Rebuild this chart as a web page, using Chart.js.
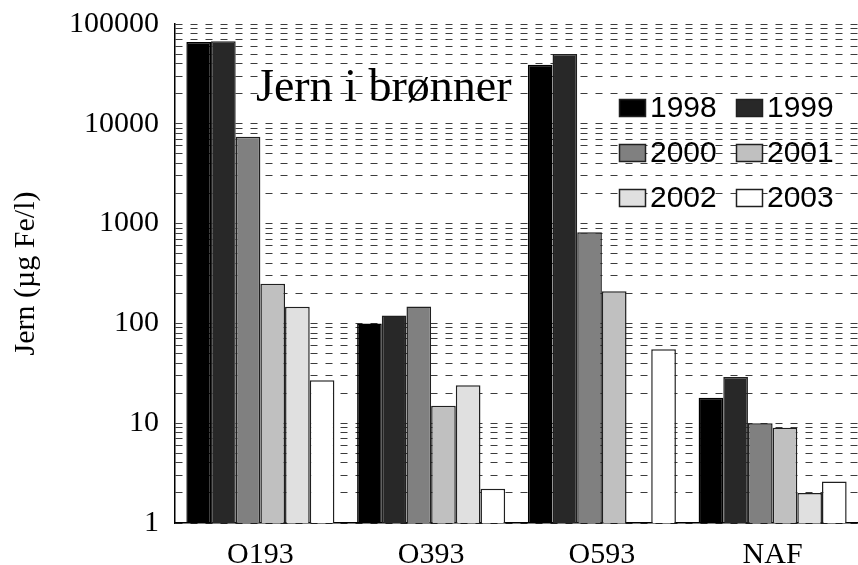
<!DOCTYPE html>
<html>
<head>
<meta charset="utf-8">
<script src="https://cdn.jsdelivr.net/npm/chart.js@4/dist/chart.umd.min.js"></script>
<style>
  body { margin: 0; background: #fff; }
  #wrap { width: 858px; height: 565px; }
</style>
</head>
<body>
<div id="wrap"><canvas id="jern-chart" width="858" height="565"></canvas></div>
<script>
// Iron in wells, per year (µg Fe/l)
const categories = ['O193', 'O393', 'O593', 'NAF'];
const years = ['1998', '1999', '2000', '2001', '2002', '2003'];
const y1998 = [66000, 100, 39000, 18];
const y1999 = [67000, 120, 50000, 29];
const y2000 = [7400, 148, 820, 10];
const y2001 = [250, 15, 210, 9];
const y2002 = [147, 24, null, 2];
const y2003 = [27, 2.2, 55, 2.6];
const decadeTicks = [1, 10, 100, 1000, 10000, 100000];

const fills = ['#000000', '#282828', '#808080', '#c0c0c0', '#e0e0e0', '#ffffff'];
const seriesValues = [y1998, y1999, y2000, y2001, y2002, y2003];

// grid at 1..9 of every decade
const gridTicks = [];
decadeTicks.forEach(function(d, i) {
  if (i === decadeTicks.length - 1) { gridTicks.push(d); return; }
  for (let k = 1; k < 10; k++) gridTicks.push(d * k);
});

const SERIF = '"Liberation Serif", "Times New Roman", serif';
const SANS = '"Liberation Sans", Arial, sans-serif';

// title text and 2-column legend drawn inside the plot
const overlayPlugin = {
  id: 'overlay',
  afterDatasetsDraw: function(chart) {
    const ctx = chart.ctx;
    ctx.save();
    ctx.fillStyle = '#000';
    ctx.font = '46px ' + SERIF;
    ctx.textAlign = 'left';
    ctx.textBaseline = 'alphabetic';
    ctx.fillText('Jern i brønner', 256, 101);

    const colX = [619, 736];
    const rowY = [99, 144, 189];
    ctx.font = '30px ' + SANS;
    ctx.textBaseline = 'middle';
    chart.data.datasets.forEach(function(ds, i) {
      const x = colX[i % 2];
      const y = rowY[Math.floor(i / 2)];
      ctx.fillStyle = ds.backgroundColor;
      ctx.fillRect(x, y, 27, 18);
      ctx.strokeStyle = '#202020';
      ctx.lineWidth = 1.5;
      ctx.strokeRect(x + 0.5, y + 0.5, 26, 17);
      ctx.fillStyle = '#000';
      ctx.fillText(ds.label, x + 31, y + 10);
    });
    ctx.restore();
  }
};

const ctx = document.getElementById('jern-chart').getContext('2d');
new Chart(ctx, {
  type: 'bar',
  data: {
    labels: categories,
    datasets: years.map(function(yr, i) {
      return {
        label: yr,
        data: seriesValues[i],
        backgroundColor: fills[i],
        borderColor: i === 0 ? '#000000' : '#202020',
        borderWidth: 1.5,
        borderSkipped: 'bottom',
        categoryPercentage: 0.867,
        barPercentage: 1.0
      };
    })
  },
  options: {
    responsive: false,
    animation: false,
    layout: { padding: { top: 24, right: 0, left: 0, bottom: 0 } },
    plugins: {
      legend: { display: false },
      tooltip: { enabled: false }
    },
    scales: {
      x: {
        grid: { display: false },
        border: { display: true, color: '#000', width: 1.5 },
        ticks: {
          color: '#000',
          font: { family: SERIF, size: 30 },
          padding: 6
        },
        afterFit: function(scale) {
          scale.height = 42;
          scale.paddingLeft = 0;
          scale.paddingRight = 0;
        }
      },
      y: {
        type: 'logarithmic',
        min: 1,
        max: 100000,
        afterBuildTicks: function(scale) {
          scale.ticks = gridTicks.map(function(v) { return { value: v }; });
        },
        afterFit: function(scale) {
          scale.width = 175;
          scale.paddingTop = 0;
          scale.paddingBottom = 0;
        },
        ticks: {
          autoSkip: false,
          color: '#000',
          font: { family: SERIF, size: 30 },
          padding: 16,
          callback: function(v) {
            return decadeTicks.indexOf(v) >= 0 ? String(v) : '';
          }
        },
        grid: {
          display: true,
          color: '#3c3c3c',
          lineWidth: 1,
          drawTicks: false
        },
        border: { display: true, color: '#000', width: 1.5, dash: [7, 8] },
        title: {
          display: true,
          text: 'Jern (µg Fe/l)',
          color: '#000',
          font: { family: SERIF, size: 30 },
          padding: { top: 8, bottom: 0 }
        }
      }
    }
  },
  plugins: [overlayPlugin]
});
</script>
</body>
</html>
